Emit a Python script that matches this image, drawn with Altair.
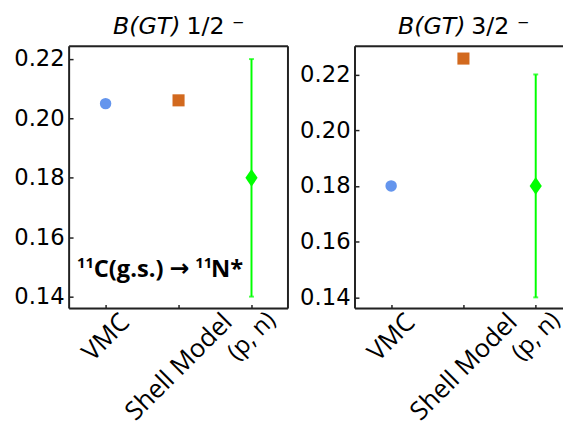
import altair as alt
import pandas as pd

# ---- data ----
methods = ["VMC", "Shell Model", "(p, n)"]
bgt_half = [0.205, 0.2061, 0.180]          # B(GT) 1/2-
bgt_three_half = [0.180, 0.2257, 0.180]    # B(GT) 3/2-
pn_err_half = [0.140, 0.220]               # (p,n) error bar, 1/2-
pn_err_three_half = [0.140, 0.220]         # (p,n) error bar, 3/2-
y_ticks = [0.14, 0.16, 0.18, 0.20, 0.22]
y_dom_half = [0.136, 0.2243]
y_dom_three_half = [0.136, 0.2301]
title_half = ["B(GT)", "1/2 \u207b"]
title_three_half = ["B(GT)", "3/2 \u207b"]
annotation_parts = ["11", "C(g.s.)", "\u2192", "11", "N*"]

# ---- styles ----
colors = ["#6495ED", "#D2691E", "#00FF00"]
shapes = ["circle", "square", "M0,-1L0.68,0L0,1L-0.68,0Z"]
sizes = [135, 150, 330]
FRAME = "#222222"
H = 266


def text_layer(txt, x, y, **kw):
    d = pd.DataFrame({"t": [txt]})
    return alt.Chart(d).mark_text(baseline="alphabetic", color="black", **kw).encode(
        x=alt.value(x), y=alt.value(y), text="t:N")


def panel(values, err, dom, title_parts, width, note=False):
    df = pd.DataFrame({"method": methods, "value": values})
    xsc = alt.Scale(type="point", domain=methods, padding=0.5)
    xaxis = alt.Axis(
        title=None, labelAngle=-45, labelAlign="center", labelBaseline="middle",
        labelFont="Open Sans",
        labelFontSize=alt.ExprRef("datum.value == '(p, n)' ? 24.5 : 26"),
        labelColor="black",
        labelPadding=alt.ExprRef("datum.value == 'Shell Model' ? 59 : datum.value == 'VMC' ? 29 : 28"),
        labelOverlap=False, labelBound=False, labelLimit=400,
        domain=False, ticks=True, tickSize=4, tickWidth=1.5, tickColor=FRAME,
        offset=-4, grid=False,
    )
    yaxis = alt.Axis(
        title=None, values=y_ticks, format=".2f", labelFont="DejaVu Sans",
        labelFontSize=23, labelColor="black", labelPadding=5,
        domain=False, ticks=True, tickSize=4, tickWidth=1.5, tickColor=FRAME,
        offset=-4, grid=False,
    )
    ysc = alt.Scale(domain=dom, nice=False, zero=False)
    x = alt.X("method:N", scale=xsc, axis=xaxis, sort=methods)

    base = alt.Chart(df)
    layers = []
    # error bar for (p, n)
    edf = pd.DataFrame({"method": [methods[2]], "low": [err[0]], "high": [err[1]]})
    layers.append(
        alt.Chart(edf).mark_rule(color=colors[2], strokeWidth=2).encode(
            x=x, y=alt.Y("low:Q", scale=ysc, axis=yaxis), y2="high:Q")
    )
    cdf = pd.DataFrame({"method": [methods[2]] * 2, "v": err})
    layers.append(
        alt.Chart(cdf).mark_tick(color=colors[2], size=5, thickness=2, orient="horizontal").encode(
            x=x, y=alt.Y("v:Q", scale=ysc, axis=yaxis))
    )
    for m, c, s, sz in zip(methods, colors, shapes, sizes):
        layers.append(
            base.transform_filter(alt.datum.method == m)
            .mark_point(filled=True, opacity=1, color=c, shape=s, size=sz, strokeWidth=0)
            .encode(x=x, y=alt.Y("value:Q", scale=ysc, axis=yaxis))
        )
    # frame
    d0 = pd.DataFrame({"k": [0]})
    layers.append(alt.Chart(d0).mark_rule(color=FRAME, strokeWidth=2).encode(
        x=alt.value(0), y=alt.value(0), y2=alt.value(H)))
    layers.append(alt.Chart(d0).mark_rule(color=FRAME, strokeWidth=2).encode(
        x=alt.value(0), x2=alt.value(width), y=alt.value(0)))
    layers.append(alt.Chart(d0).mark_rule(color=FRAME, strokeWidth=2).encode(
        x=alt.value(0), x2=alt.value(width), y=alt.value(H)))
    if note:
        layers.append(alt.Chart(d0).mark_rule(color=FRAME, strokeWidth=2).encode(
            x=alt.value(width), y=alt.value(0), y2=alt.value(H)))
    # title
    layers.append(text_layer(title_parts[0], width / 2 + 2, -12, align="right",
                             font="DejaVu Sans", fontStyle="italic", fontSize=24))
    layers.append(text_layer(title_parts[1], width / 2 + 8, -12, align="left",
                             font="DejaVu Sans", fontSize=24))
    if note:
        sup = dict(align="left", font="Open Sans", fontWeight="bold", fontSize=15)
        main = dict(align="left", font="Open Sans", fontWeight="bold", fontSize=24)
        layers.append(text_layer(annotation_parts[0], 8, 225, **sup))
        layers.append(text_layer(annotation_parts[1], 25, 234, **main))
        layers.append(text_layer(annotation_parts[2], 102, 233, align="left",
                                 font="DejaVu Sans", fontWeight="bold", fontSize=24))
        layers.append(text_layer(annotation_parts[3], 128, 225, **sup))
        layers.append(text_layer(annotation_parts[4], 144, 234, **main))
    return alt.layer(*layers).properties(width=width, height=H)


left = panel(bgt_half, pn_err_half, y_dom_half, title_half, 222, note=True)
right = panel(bgt_three_half, pn_err_three_half, y_dom_three_half, title_three_half, 220)

chart = alt.hconcat(left, right, spacing=9).properties(
    autosize=alt.AutoSizeParams(type="none"),
    padding={"left": 62, "top": 34, "right": 501, "bottom": 373},
).configure_view(stroke=None).configure(background="white")

chart.save("out.html", embed_options={"renderer": "svg", "actions": False})
